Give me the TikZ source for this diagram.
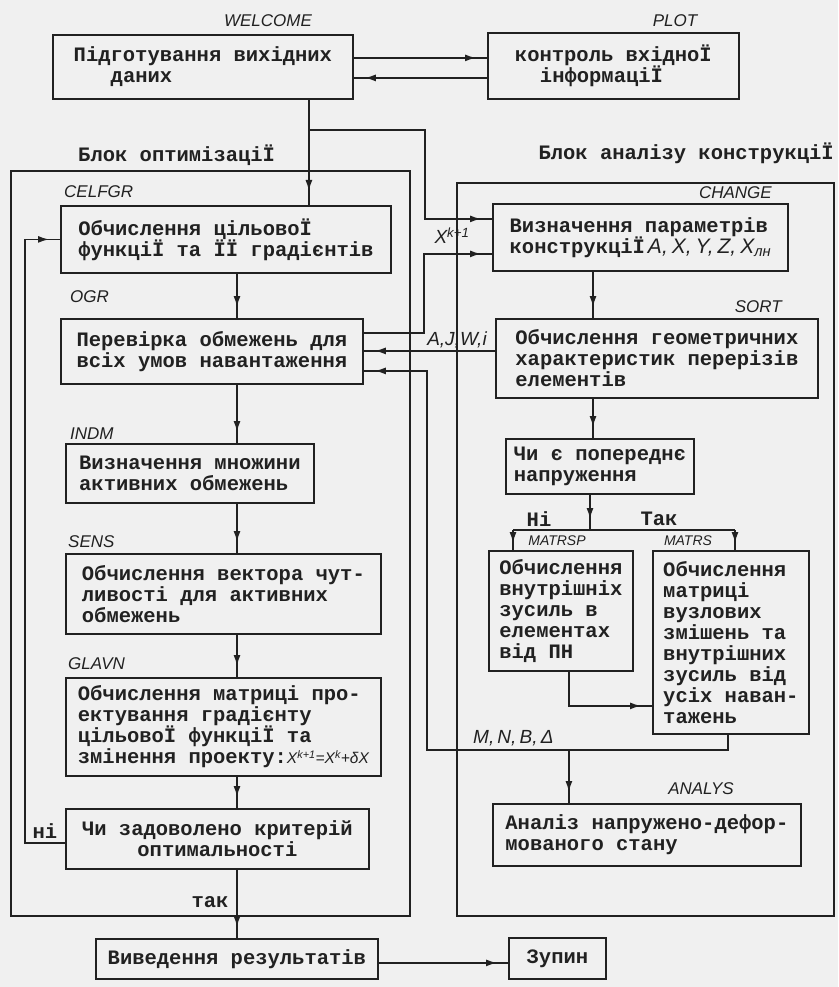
\documentclass[tikz,border=0pt]{standalone}
\usepackage{fontspec}
\setmainfont{Liberation Mono}
\newfontfamily\twfam{Liberation Mono}
\newfontfamily\hwfam{Liberation Sans}
\usetikzlibrary{arrows.meta,decorations.markings}
\definecolor{ink}{gray}{0.13}
\definecolor{paper}{gray}{0.94}
\newcommand\twf{\twfam\bfseries\fontsize{20.5pt}{21pt}\selectfont}
\newcommand\labf{\hwfam\mdseries\itshape\fontsize{17pt}{17pt}\selectfont}
\newcommand\biglabf{\hwfam\mdseries\itshape\fontsize{19pt}{19pt}\selectfont}
\newcommand\hugelabf{\hwfam\mdseries\itshape\fontsize{21pt}{21pt}\selectfont}
\newcommand\smlabf{\hwfam\mdseries\itshape\fontsize{14pt}{14pt}\selectfont}
\newcommand\mdlabf{\hwfam\mdseries\itshape\fontsize{15.5pt}{15.5pt}\selectfont}
\begin{document}
\begin{tikzpicture}[x=1pt,y=-1pt,
 ln/.style={draw=ink,line width=1.5pt},
 arr/.style={ln,postaction={decorate},decoration={markings,mark=at position -#1 with {\arrow{Latex[length=11pt,width=7pt]}}}},
 arr/.default=11pt,
 bx/.style={draw=ink,line width=1.8pt,font=\twf,text=ink,align=left,inner sep=2pt,anchor=north west},
 frm/.style={draw=ink,line width=1.8pt,inner sep=0pt,anchor=north west},
 lab/.style={font=\labf,text=ink,inner sep=0pt},
 slab/.style={font=\smlabf,text=ink,inner sep=0pt},
 tt/.style={font=\twf,text=ink,inner sep=0pt}]
\fill[paper] (0,0) rectangle (838,987);
\useasboundingbox (0,0) rectangle (838,987);

% block frames
\node[frm,minimum width=399pt,minimum height=745pt] (optblk) at (10,170) {};
\node[frm,minimum width=377pt,minimum height=733pt] (anablk) at (456,182) {};

% boxes
\node[bx,minimum width=300pt,minimum height=64pt] (welcome) at (52,34) {Підготування вихідних\\\hspace*{37pt}даних};
\node[bx,minimum width=251pt,minimum height=66pt] (plot) at (487,32) {контроль вхідноЇ\\\hspace*{25pt}інформаціЇ};
\node[bx,minimum width=330pt,minimum height=67pt] (celfgr) at (60,205) {Обчислення цільовоЇ\\функціЇ та ЇЇ градієнтів};
\node[bx,minimum width=302pt,minimum height=65pt] (ogr) at (60,318) {Перевірка обмежень для\\всіх умов навантаження};
\node[bx,minimum width=248pt,minimum height=59pt] (indm) at (65,443) {Визначення множини\\активних обмежень};
\node[bx,minimum width=315pt,minimum height=80pt] (sens) at (65,553) {Обчислення вектора чут-\\ливості для активних\\обмежень};
\node[bx,minimum width=315pt,minimum height=98pt] (glavn) at (65,677) {Обчислення матриці про-\\ектування градієнту\\цільовоЇ функціЇ та\\змінення проекту:{\mdlabf X\textsuperscript{k+1}=X\textsuperscript{k}+δX}};
\node[bx,align=center,minimum width=303pt,minimum height=60pt] (chi) at (65,808) {Чи задоволено критерій\\оптимальності};
\node[bx,align=center,minimum width=282pt,minimum height=40pt] (out) at (95,938) {Виведення результатів};
\node[bx,align=center,minimum width=97pt,minimum height=41pt] (stop) at (508,937) {Зупин};
\node[bx,minimum width=295pt,minimum height=67pt] (change) at (492,203) {Визначення параметрів\\конструкціЇ\hspace{3pt}{\hugelabf A,\hspace{4pt}X,\hspace{4pt}Y,\hspace{4pt}Z,\hspace{4pt}X\textsubscript{лн}}};
\node[bx,minimum width=322pt,minimum height=79pt] (sort) at (495,318) {Обчислення геометричних\\характеристик перерізів\\елементів};
\node[bx,minimum width=188pt,minimum height=55pt] (pre) at (505,438) {Чи є попереднє\\напруження};
\node[bx,minimum width=144pt,minimum height=120pt] (matrsp) at (488,550) {Обчислення\\внутрішніх\\зусиль в\\елементах\\від ПН};
\node[bx,minimum width=156pt,minimum height=183pt] (matrs) at (652,550) {Обчислення\\матриці\\вузлових\\змішень та\\внутрішних\\зусиль від\\усіх наван-\\тажень};
\node[bx,minimum width=308pt,minimum height=62pt] (analys) at (492,803) {Аналіз напружено-дефор-\\мованого стану};

% helper coordinates
\coordinate (lx) at (237,0);
\coordinate (vx) at (424,0);
\coordinate (cx) at (593,0);
\coordinate (fbx) at (25,0);
\coordinate (wp1) at ([yshift=9pt]welcome.east);
\coordinate (wp2) at ([yshift=-11pt]welcome.east);
\coordinate (wd) at ([xshift=106pt]welcome.south);
\coordinate (br) at ([yshift=-30pt]wd);
\coordinate (brR) at ([xshift=116pt]br);
\coordinate (c1) at ([yshift=18.5pt]change.west);
\coordinate (c2) at ([yshift=-16.5pt]change.west);
\coordinate (o1) at ([yshift=18.5pt]ogr.east);
\coordinate (o2) at ([yshift=-19.5pt]ogr.east);
\coordinate (s1) at ([yshift=7.5pt]sort.west);
\coordinate (m1) at ([xshift=-3pt]matrs.south);
\coordinate (mnL) at (427,750);
\coordinate (p1) at ([xshift=8pt]matrsp.south);
\coordinate (p2) at ([yshift=-63.5pt]matrs.west);
\coordinate (q) at (590,530);
\coordinate (qL) at (513,530);
\coordinate (qR) at (735,530);
\coordinate (ni) at ([yshift=-4pt]chi.west);
\coordinate (o3) at ([yshift=-4pt]out.east);

% connectors
\draw[arr] (wp1) -- (wp1 -| plot.west);
\draw[arr] (wp2 -| plot.west) -- (wp2);
\draw[arr=14pt] (wd) -- (wd |- celfgr.north);
\draw[arr] (br) -- (brR) |- (c1);
\draw[arr] (celfgr.south -| lx) -- (ogr.north -| lx);
\draw[arr] (ogr.south -| lx) -- (indm.north -| lx);
\draw[arr] (indm.south -| lx) -- (sens.north -| lx);
\draw[arr] (sens.south -| lx) -- (glavn.north -| lx);
\draw[arr] (glavn.south -| lx) -- (chi.north -| lx);
\draw[arr] (chi.south -| lx) -- (out.north -| lx);
\draw[arr] (ni) -- (ni -| fbx) |- (celfgr.west);
\draw[arr] (o1) -- (o1 -| vx) |- (c2);
\draw[arr] (s1) -- (s1 -| ogr.east);
\draw[arr] (m1) |- (mnL) |- (o2);
\draw[arr] (p1) |- (p2);
\draw[arr] (p1 |- mnL) -- (p1 |- analys.north);
\draw[arr] (change.south -| cx) -- (sort.north -| cx);
\draw[arr] (sort.south -| cx) -- (pre.north -| cx);
\draw[arr] (pre.south -| q) -- (q);
\draw[ln] (qL) -- (qR);
\draw[arr=7pt] (qL) -- (qL |- matrsp.north);
\draw[arr=7pt] (qR) -- (qR |- matrs.north);
\draw[arr] (o3) -- (o3 -| stop.west);

% labels
\node[lab] (lwelcome) at (268,21) {WELCOME};
\node[lab] (lplot) at (675,21) {PLOT};
\node[tt,anchor=west] (hopt) at (78,155) {Блок оптимізаціЇ};
\node[tt,anchor=east] (hana) at (834,153) {Блок аналізу конструкціЇ};
\node[lab,anchor=west] (lcelfgr) at (64,192) {CELFGR};
\node[lab,anchor=west] (logr) at (70,297) {OGR};
\node[lab,anchor=west] (lindm) at (70,434) {INDM};
\node[lab,anchor=west] (lsens) at (68,542) {SENS};
\node[lab,anchor=west] (lglavn) at (68,664) {GLAVN};
\node[lab,anchor=east] (lchange) at (772,193) {CHANGE};
\node[lab,anchor=east] (lsort) at (782,307) {SORT};
\node[lab,anchor=east] (lanalys) at (734,789) {ANALYS};
\node[slab] (lmatrsp) at (557,541) {MATRSP};
\node[slab] (lmatrs) at (688,541) {MATRS};
\node[tt] (lne) at (539,519) {Ні};
\node[tt] (ltak) at (659,519) {Так};
\node[tt] (lni) at (45,831) {ні};
\node[tt] (ltak2) at (210,902) {так};
\node[lab,font=\biglabf] (lxk) at (452,236) {X\textsuperscript{k+1}};
\node[lab,font=\biglabf] (lajw) at (457,340) {A,J,W,i};
\node[lab,font=\biglabf,anchor=west] (lmnb) at (473,738) {M,\,N,\,B,\,Δ};
\end{tikzpicture}
\end{document}
